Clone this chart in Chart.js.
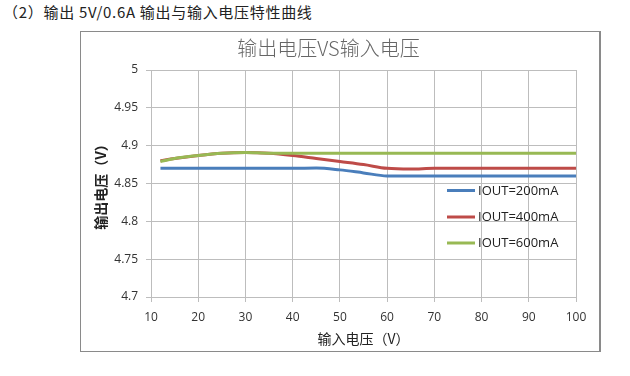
<!DOCTYPE html>
<html><head><meta charset="utf-8">
<script src="https://cdn.jsdelivr.net/npm/chart.js@4/dist/chart.umd.min.js"></script>
<style>
html,body{margin:0;padding:0;background:#fff;width:630px;height:376px;overflow:hidden;}
#head{position:absolute;left:3px;top:1px;font-family:"Noto Sans CJK SC","Noto Sans",sans-serif;font-size:15px;color:#222;white-space:nowrap;letter-spacing:0.7px;}
#box{position:absolute;left:80px;top:31px;width:518px;height:319px;border:1px solid #8a8a8a;border-right:2px solid #8a8a8a;}
canvas{display:block;}
</style></head><body>
<div id="head">（2）输出 5V/0.6A 输出与输入电压特性曲线</div>
<div id="box"><canvas id="c" width="518" height="319"></canvas></div>
<script>
const chartTitle = '输出电压VS输入电压';
const xTitle = '输入电压（V）';
const yTitle = '输出电压（V）';
const vin = [12, 15, 20, 25, 30, 35, 40, 45, 50, 55, 60, 65, 70, 80, 90, 100];
const seriesNames = ['IOUT=200mA', 'IOUT=400mA', 'IOUT=600mA'];
const vout200 = [4.870, 4.870, 4.870, 4.870, 4.870, 4.870, 4.870, 4.8705, 4.868, 4.864, 4.860, 4.860, 4.860, 4.860, 4.860, 4.860];
const vout400 = [4.880, 4.883, 4.887, 4.890, 4.891, 4.890, 4.887, 4.883, 4.879, 4.875, 4.870, 4.869, 4.870, 4.870, 4.870, 4.870];
const vout600 = [4.879, 4.883, 4.887, 4.890, 4.891, 4.890, 4.890, 4.890, 4.890, 4.890, 4.890, 4.890, 4.890, 4.890, 4.890, 4.890];
const xTicks = [10, 20, 30, 40, 50, 60, 70, 80, 90, 100];
const yTicks = [4.7, 4.75, 4.8, 4.85, 4.9, 4.95, 5];
const colors = ['#4a7ebb', '#be4b48', '#98b954'];

const allSeries = [vout200, vout400, vout600];
const datasets = allSeries.map((vals, i) => ({
  label: seriesNames[i],
  data: vals.map((v, j) => ({x: vin[j], y: v})),
  borderColor: colors[i],
  backgroundColor: colors[i],
  borderWidth: 3,
  pointRadius: 0,
  cubicInterpolationMode: 'monotone',
  fill: false,
  order: 2 - i
}));

const grid = '#bdbdbd';
const tickFont = {family: '"Open Sans","Liberation Sans",sans-serif', size: 12};

const legendPlugin = {
  id: 'innerLegend',
  afterDatasetsDraw(chart) {
    const {ctx, chartArea} = chart;
    const x0 = chartArea.right - 129;
    const rows = [120.5, 147, 173];
    ctx.save();
    ctx.font = '13px "Open Sans","Liberation Sans",sans-serif';
    ctx.textBaseline = 'middle';
    ctx.textAlign = 'left';
    chart.data.datasets.forEach((ds, i) => {
      const y = chartArea.top + rows[i];
      ctx.strokeStyle = ds.borderColor;
      ctx.lineWidth = 3;
      ctx.beginPath();
      ctx.moveTo(x0, y);
      ctx.lineTo(x0 + 28, y);
      ctx.stroke();
      ctx.fillStyle = '#222';
      ctx.fillText(ds.label, x0 + 31, y + 0.5);
    });
    ctx.restore();
  }
};

new Chart(document.getElementById('c'), {
  type: 'line',
  data: {datasets},
  plugins: [legendPlugin],
  options: {
    responsive: false,
    animation: false,
    layout: {padding: {left: 0, right: 23, top: 0, bottom: 0}},
    plugins: {
      legend: {display: false},
      tooltip: {enabled: false},
      title: {
        display: true,
        text: chartTitle,
        color: '#666',
        font: {family: '"Noto Sans CJK SC",sans-serif', size: 20, weight: 300, lineHeight: 1.2},
        padding: {top: 4, bottom: 10}
      }
    },
    scales: {
      x: {
        type: 'linear',
        min: 10, max: 100,
        afterBuildTicks: s => { s.ticks = xTicks.map(v => ({value: v})); },
        afterFit: s => { s.height = 54; },
        grid: {color: grid, lineWidth: 1, drawTicks: true, tickLength: 5, tickColor: grid},
        border: {color: grid},
        ticks: {font: tickFont, color: '#333', padding: 8, maxRotation: 0,
          callback: v => String(v)},
        title: {display: true, text: xTitle, color: '#222',
          font: {family: '"Noto Sans CJK SC",sans-serif', size: 14, weight: 'normal', lineHeight: 1.2},
          padding: {top: 0, bottom: 4}}
      },
      y: {
        type: 'linear',
        min: 4.7, max: 5,
        afterBuildTicks: s => { s.ticks = yTicks.map(v => ({value: v})); },
        afterFit: s => { s.width = 70; },
        grid: {color: grid, lineWidth: 1, drawTicks: true, tickLength: 5, tickColor: grid},
        border: {color: grid},
        ticks: {font: tickFont, color: '#333', padding: 8,
          callback: v => String(parseFloat(Number(v).toFixed(2)))},
        title: {display: true, text: yTitle, color: '#222',
          font: {family: '"Noto Sans CJK SC",sans-serif', size: 14, weight: 'bold', lineHeight: 1.2},
          padding: {top: 11, bottom: 0}}
      }
    }
  }
});
</script>
</body></html>
